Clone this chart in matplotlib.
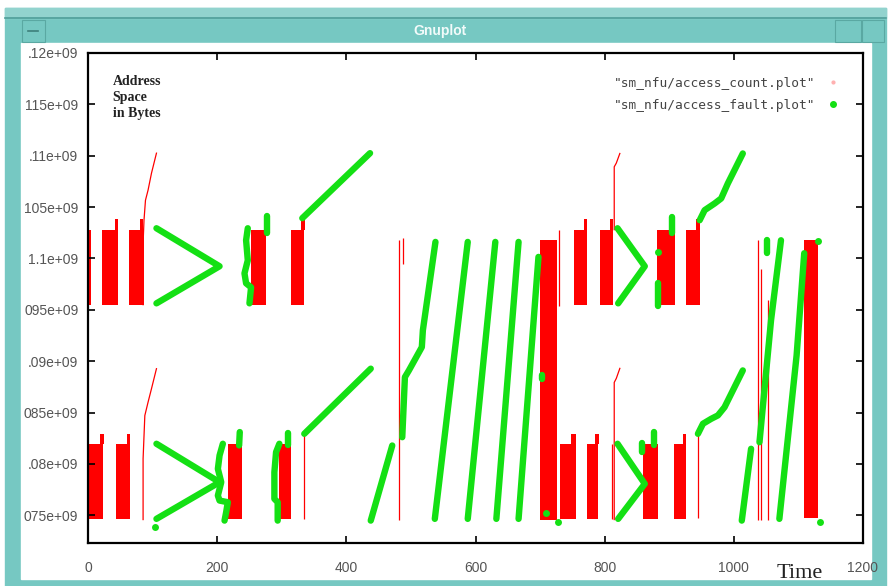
import matplotlib.pyplot as plt
import numpy as np
from matplotlib.patches import Rectangle
from matplotlib.lines import Line2D

# ---------------- data (time, address in 1e9 bytes) ----------------
# access_count: solid red blocks
blk_x0 = [0, 22, 63, 253, 315, 753, 793, 881, 926,
          0, 44, 216, 296, 731, 772, 860, 908,
          700, 1108]
blk_x1 = [5, 46, 86, 276, 335, 772, 813, 909, 947,
          23, 65, 238, 315, 755, 790, 883, 926,
          726, 1131]
blk_lo = [1.0955] * 9 + [1.0746] * 8 + [1.0745, 1.0747]
blk_hi = [1.1028] * 9 + [1.0819] * 8 + [1.1018, 1.1018]

# small steps on top of some blocks
step_x0 = [42, 80, 330, 768, 808, 941, 18, 60, 748, 785, 922]
step_x1 = [47, 85, 336, 773, 813, 948, 25, 65, 755, 791, 926]
step_lo = [1.1028] * 6 + [1.0819] * 5
step_hi = [1.1038] * 6 + [1.0829] * 5

# thin red vertical traces
thin_x = [481, 487, 335, 730, 812, 944, 1037, 1042, 1053]
thin_lo = [1.0745, 1.0995, 1.0746, 1.0954, 1.0746, 1.0747, 1.0745, 1.0745, 1.0745]
thin_hi = [1.1018, 1.1020, 1.0830, 1.1028, 1.0819, 1.0828, 1.1018, 1.0990, 1.0960]

# thin red curves going up
red_up_x = [85.3, 85.3, 86.7, 89, 93, 98.3, 106]
red_up_y = [1.0955, 1.10148, 1.10372, 1.10567, 1.10665, 1.10830, 1.11025]
red_lo_x = [85.3, 85.3, 88, 93, 98.3, 106]
red_lo_y = [1.07458, 1.08050, 1.08471, 1.08601, 1.08732, 1.08927]
red_rup_x = [814.8, 814.8, 818, 823.5]
red_rup_y = [1.1028, 1.10892, 1.10928, 1.11022]
red_rlo_x = [814.8, 814.8, 818, 823.5]
red_rlo_y = [1.07458, 1.08793, 1.08832, 1.08930]

# access_fault: green traces
v_ul_x = [106, 203.7, 106]
v_ul_y = [1.10294, 1.09924, 1.09563]
v_ll_x = [106, 203.7, 106]
v_ll_y = [1.08196, 1.07822, 1.07465]
v_ur_x = [819.9, 862.1, 820.9]
v_ur_y = [1.10294, 1.09924, 1.09563]
v_lr_x = [819.9, 862.1, 820.9]
v_lr_y = [1.08196, 1.07806, 1.07465]

wig1_x = [247.4, 244.8, 247.4, 242.3, 244.8, 252.5, 250]
wig1_y = [1.10294, 1.10177, 1.09982, 1.09855, 1.09758, 1.09719, 1.09563]
wig2_x = [208.8, 203.7, 201.1, 206.3, 201.1, 203.7, 216.5, 213.9, 211.4]
wig2_y = [1.08196, 1.08082, 1.07952, 1.07822, 1.07692, 1.07643, 1.07627, 1.07529, 1.07448]
wig3_x = [296.3, 291.2, 288.6, 288.6, 293.7, 293.7]
wig3_y = [1.08196, 1.08115, 1.07919, 1.07660, 1.07627, 1.07448]

blob_x = [[277, 277], [234, 235], [309, 309], [905, 905], [883, 883],
          [858, 858], [877, 877], [1052, 1052], [703, 703]]
blob_y = [[1.1025, 1.1041], [1.0818, 1.0831], [1.0818, 1.0830], [1.1025, 1.1040],
          [1.0954, 1.0976], [1.0812, 1.0820], [1.0818, 1.0831], [1.1005, 1.1018],
          [1.0883, 1.0887]]
dot_x = [883, 709, 727, 1129.6, 1134, 104.5]
dot_y = [1.1006, 1.0752, 1.0743, 1.1017, 1.0743, 1.0739]

diag_up_x = [331.8, 436.7]
diag_up_y = [1.10392, 1.11025]
diag_lo_x = [334.9, 437.8]
diag_lo_y = [1.08293, 1.08927]
short1_x = [437.8, 471.1]
short1_y = [1.07448, 1.08179]

s1_x = [538.0, 518.5, 516.9, 496.9, 490.7, 486.6]
s1_y = [1.10161, 1.09300, 1.09137, 1.08910, 1.08845, 1.08260]
s2_x = [588.0, 537.0]
s3_x = [630.7, 588.0]
s4_x = [666.7, 632.3]
s234_y = [1.10161, 1.07465]
s5_x = [697.5, 666.7]
s5_y = [1.10015, 1.07465]

cur_up_x = [947.1, 954.8, 970.2, 980.4, 990.7, 1013.9]
cur_up_y = [1.10372, 1.10470, 1.10535, 1.10584, 1.10730, 1.11022]
cur_lo_x = [944.4, 952.2, 965, 975.3, 985.6, 1013.9]
cur_lo_y = [1.08293, 1.08391, 1.08439, 1.08472, 1.08552, 1.08910]

far1_x = [1073, 1057.6, 1039.7]
far1_y = [1.10177, 1.09398, 1.08211]
far2_x = [1109, 1097.2, 1070.5]
far2_y = [1.10051, 1.09056, 1.07465]
far3_x = [1026.7, 1012.3]
far3_y = [1.08147, 1.07448]

ytick_vals = [1.075, 1.08, 1.085, 1.09, 1.095, 1.1, 1.105, 1.11, 1.115, 1.12]
ytick_txt = ["075e+09", ".08e+09", "085e+09", ".09e+09", "095e+09",
             "1.1e+09", "105e+09", ".11e+09", "115e+09", ".12e+09"]
xtick_vals = [0, 200, 400, 600, 800, 1000, 1200]

G = 1e9
RED = "#ff0000"
GREEN = "#14e014"
TEAL = "#76c8c2"

fig = plt.figure(figsize=(8.9, 5.86), dpi=100)

# window frame
bg = fig.add_axes([0, 0, 1, 1], zorder=-1)
bg.set_xlim(0, 890)
bg.set_ylim(586, 0)
bg.axis("off")
bg.add_patch(Rectangle((5, 8), 881, 578, color=TEAL))
bg.add_patch(Rectangle((5, 8), 881, 10, color="#92d3ce"))
bg.plot([5, 886], [18, 18], color="#4e9e98", lw=1.2)
bg.add_patch(Rectangle((21, 43), 850, 536, color="white"))
bg.add_patch(Rectangle((22, 20), 23, 22, fill=False, ec="#5aa8a2", lw=0.8))
bg.plot([28, 38], [31, 31], color="#3d7f7a", lw=1.2)
bg.add_patch(Rectangle((835, 20), 26, 22, fill=False, ec="#5aa8a2", lw=0.8))
bg.add_patch(Rectangle((862, 20), 22, 22, fill=False, ec="#5aa8a2", lw=0.8))
bg.text(440, 31, "Gnuplot", color="#f2fbfa", fontsize=10, fontweight="bold",
        family="Liberation Sans", ha="center", va="center")

ax = fig.add_axes([88 / 890, 1 - 543 / 586, 775 / 890, 490 / 586])
ax.set_facecolor("none")

# access_count
b_lo = np.array(blk_lo) * G
b_hi = np.array(blk_hi) * G
ax.bar(blk_x0, b_hi - b_lo, width=np.array(blk_x1) - np.array(blk_x0), bottom=b_lo,
       align="edge", color=RED, linewidth=0)
s_lo = np.array(step_lo) * G
s_hi = np.array(step_hi) * G
ax.bar(step_x0, s_hi - s_lo, width=np.array(step_x1) - np.array(step_x0), bottom=s_lo,
       align="edge", color=RED, linewidth=0)
ax.vlines(thin_x, np.array(thin_lo) * G, np.array(thin_hi) * G, color=RED, lw=0.9)
for xs, ys in [(red_up_x, red_up_y), (red_lo_x, red_lo_y),
               (red_rup_x, red_rup_y), (red_rlo_x, red_rlo_y)]:
    ax.plot(xs, np.array(ys) * G, color=RED, lw=0.9)

# access_fault
paths = [(v_ul_x, v_ul_y), (v_ll_x, v_ll_y), (v_ur_x, v_ur_y), (v_lr_x, v_lr_y),
         (wig1_x, wig1_y), (wig2_x, wig2_y), (wig3_x, wig3_y),
         (diag_up_x, diag_up_y), (diag_lo_x, diag_lo_y), (short1_x, short1_y),
         (s1_x, s1_y), (s2_x, s234_y), (s3_x, s234_y), (s4_x, s234_y), (s5_x, s5_y),
         (cur_up_x, cur_up_y), (cur_lo_x, cur_lo_y),
         (far1_x, far1_y), (far2_x, far2_y), (far3_x, far3_y)]
paths += list(zip(blob_x, blob_y))
for xs, ys in paths:
    ax.plot(xs, np.array(ys) * G, color=GREEN, lw=4.6, solid_capstyle="round",
            solid_joinstyle="round")
ax.plot(dot_x, np.array(dot_y) * G, "o", color=GREEN, ms=5, mew=0)

ax.set_xlim(0, 1200)
ax.set_ylim(1.0723 * G, 1.12 * G)
ax.set_xticks(xtick_vals)
ax.set_xticklabels([str(v) for v in xtick_vals])
ax.set_yticks(np.array(ytick_vals) * G)
ax.set_yticklabels(ytick_txt)
ax.tick_params(direction="in", length=5, width=1.2, top=True, right=True,
               labelsize=10, labelcolor="#555555")
ax.tick_params(axis="x", pad=13)
ax.tick_params(axis="y", pad=7)
for lab in ax.get_xticklabels() + ax.get_yticklabels():
    lab.set_family("Liberation Sans")
for sp in ax.spines.values():
    sp.set_linewidth(1.6)

ax.text(0.032, 0.955, "Address\nSpace\nin Bytes", transform=ax.transAxes,
        family="Liberation Serif", fontweight="bold", fontsize=10,
        linespacing=1.3, va="top", ha="left", color="#222222")

handles = [Line2D([], [], ls="none", marker="o", ms=2, color="#ffb0b0"),
           Line2D([], [], ls="none", marker="o", ms=4, color=GREEN)]
leg = ax.legend(handles, ['"sm_nfu/access_count.plot"', '"sm_nfu/access_fault.plot"'],
                loc="upper right", bbox_to_anchor=(0.985, 0.975), markerfirst=False,
                frameon=False, handlelength=1.0, handletextpad=0.9, labelspacing=0.7,
                prop={"family": "DejaVu Sans Mono", "size": 9.3})
for t in leg.get_texts():
    t.set_color("#444444")

fig.text(800 / 890, 1 - 573 / 586, "Time", family="Liberation Serif", fontsize=16,
         ha="center", va="center", color="#222222")

fig.savefig("out.png", dpi=100)
